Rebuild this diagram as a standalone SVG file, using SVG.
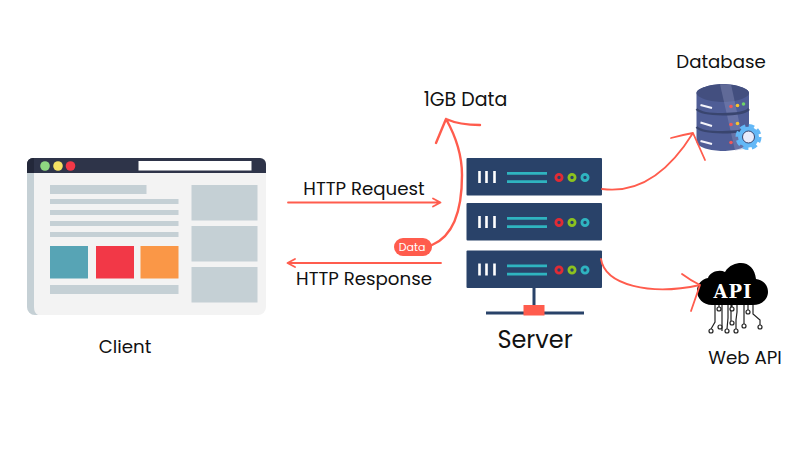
<svg xmlns="http://www.w3.org/2000/svg" width="810" height="450" viewBox="0 0 810 450">
<style>
.t{font-family:Poppins,"Liberation Sans","Noto Sans",sans-serif;font-size:18.200px;fill:#111}
.c{fill:none;stroke:#ff5c4d;stroke-width:1.800;stroke-linecap:round;stroke-linejoin:round}
.h{stroke-width:2.400}
.g{fill:#c5d0d5}
.teal{stroke:#2fb4c0;stroke-width:2.700}
.panel{fill:#294269}
.i{stroke:#fff;stroke-width:2.600}
.lead{fill:none;stroke:#222;stroke-width:1.200}
.pad{fill:#fff;stroke:#222;stroke-width:1.200}
</style>
<rect width="810" height="450" fill="#fff"/>
<g id="client">
<path d="M27 173H266V307a8 8 0 0 1-8 8H35a8 8 0 0 1-8-8Z" fill="#f3f3f3"/>
<path d="M27 173H34V307Q34 313 38 315H35a8 8 0 0 1-8-8Z" fill="#c5d0d5"/>
<path d="M33 158H260a6 6 0 0 1 6 6V173H27V164a6 6 0 0 1 6-6Z" fill="#2e3449"/>
<path d="M33 158H34V173H27V164a6 6 0 0 1 6-6Z" fill="#23283a"/>
<circle cx="45" cy="166" r="4.800" fill="#8ed881"/>
<circle cx="58" cy="166" r="4.800" fill="#f6e264"/>
<circle cx="70.500" cy="166" r="4.800" fill="#f23847"/>
<rect x="138.500" y="161" width="113" height="9.500" fill="#fff"/>
<rect x="50" y="185" width="96.500" height="9" class="g"/>
<rect x="50" y="199" width="128.500" height="5" class="g"/>
<rect x="50" y="210" width="128.500" height="5" class="g"/>
<rect x="50" y="221" width="128.500" height="5" class="g"/>
<rect x="50" y="232" width="128.500" height="5" class="g"/>
<rect x="50" y="246" width="38" height="32.500" fill="#57a4b5"/>
<rect x="96" y="246" width="38" height="32.500" fill="#f23847"/>
<rect x="140.500" y="246" width="38" height="32.500" fill="#fa9747"/>
<rect x="50" y="285" width="128.500" height="9" class="g"/>
<rect x="191.500" y="185" width="66" height="35.500" class="g"/>
<rect x="191.500" y="226" width="66" height="35.500" class="g"/>
<rect x="191.500" y="267" width="66" height="35.500" class="g"/>
<text class="t" x="125" y="353" text-anchor="middle">Client</text>
</g>
<g id="server">
<g id="rack1"><rect x="466.500" y="158" width="135.500" height="37.500" rx="1" class="panel"/>
<path d="M479.500 171v12M486.500 171v12M494.500 171v12" class="i"/><path d="M507 173.300h40M507 181.700h40" class="teal"/>
<g fill="none" stroke-width="2.800"><circle cx="559" cy="177.500" r="3.100" stroke="#e02b35"/><circle cx="572" cy="177.500" r="3.100" stroke="#8cc21f"/><circle cx="585" cy="177.500" r="3.100" stroke="#2fb4c0"/></g></g>
<g id="rack2"><rect x="466.500" y="203" width="135.500" height="37.500" rx="1" class="panel"/>
<path d="M479.500 216v12M486.500 216v12M494.500 216v12" class="i"/><path d="M507 218.300h40M507 226.700h40" class="teal"/>
<g fill="none" stroke-width="2.800"><circle cx="559" cy="222.500" r="3.100" stroke="#e02b35"/><circle cx="572" cy="222.500" r="3.100" stroke="#8cc21f"/><circle cx="585" cy="222.500" r="3.100" stroke="#2fb4c0"/></g></g>
<g id="rack3"><rect x="466.500" y="250.500" width="135.500" height="37.500" rx="1" class="panel"/>
<path d="M479.500 263.500v12M486.500 263.500v12M494.500 263.500v12" class="i"/><path d="M507 265.800h40M507 274.200h40" class="teal"/>
<g fill="none" stroke-width="2.800"><circle cx="559" cy="270" r="3.100" stroke="#e02b35"/><circle cx="572" cy="270" r="3.100" stroke="#8cc21f"/><circle cx="585" cy="270" r="3.100" stroke="#2fb4c0"/></g></g>
<path d="M534 288v24M486 313h98" stroke="#294269" stroke-width="3" fill="none"/>
<rect x="523.500" y="305" width="21" height="10.500" fill="#ff5c4d"/>
<text x="535" y="348" text-anchor="middle" style="font-family:Poppins,'Liberation Sans',sans-serif;font-size:24px;fill:#111">Server</text>
</g>
<g id="database">
<path d="M696.500 93C696.500 88 712 84 723 84S749 88 749 93V142C749 147 735 151 723 151S696.500 147 696.500 142Z" fill="#4f5d96"/>
<path d="M696.500 93C696.500 88 712 84 723 84S749 88 749 93C749 98 735 102 723 102S696.500 98 696.500 93Z" fill="#434f7f"/>
<path d="M720 84.300 731 84.300 745 149 735 150.500Z" fill="#8b93bd" opacity=".4"/>
<path d="M696.500 109C703 116 742 116 749 109M696.500 127C703 134 742 134 749 127" fill="none" stroke="#39456f" stroke-width="2.500"/>
<path d="M700.500 105 712 108M700.500 122.500 712 126M700.500 141 712 144" stroke="#f4f4fb" stroke-width="2" fill="none"/>
<g id="dots"><circle cx="731" cy="106.500" r="1.800" fill="#ef5a5a"/><circle cx="737.500" cy="105.500" r="1.800" fill="#f7c52d"/><circle cx="743.500" cy="104" r="1.800" fill="#6ed36a"/><circle cx="731" cy="124.500" r="1.800" fill="#ef5a5a"/><circle cx="737.500" cy="123.500" r="1.800" fill="#f7c52d"/><circle cx="731" cy="142.500" r="1.800" fill="#ef5a5a"/></g>
<circle cx="748.500" cy="137" r="10.500" fill="#63b8f7"/>
<circle cx="748.500" cy="137" r="11.500" fill="none" stroke="#63b8f7" stroke-width="3" stroke-dasharray="5.500 3.530"/>
<circle cx="748.500" cy="137" r="6" fill="#e9ebfb" stroke="#39456f" stroke-width="1"/>
<text class="t" x="721" y="67.500" text-anchor="middle">Database</text>
</g>
<g id="web-api">
<path d="M712 305C703 305 697 298 697 291C697 284 702 279 708 278C710 272 719 269 725 272C729 265 736 263 741 263C749 263 755 269 756 279C763 280 768 285 768 292C768 299 762 305 753 305Z" fill="#000"/>
<text x="733" y="298" text-anchor="middle" style="font-family:'DejaVu Serif',serif;font-size:18px;font-weight:700;fill:#fff;letter-spacing:1px">API</text>
<path class="lead" d="M715 305V322L711 329M719 305V311M722 305V331M728 305V318L727 329M731 305V321M732 305V311M737 305V312L736 320 736 329M744 305V324M753 305V314L760 320V325M748 305V310"/>
<g class="pad"><circle cx="711" cy="331" r="2"/><circle cx="720" cy="327" r="2"/><circle cx="727" cy="331" r="2"/><circle cx="736" cy="331" r="2"/><circle cx="732" cy="323" r="2"/><circle cx="744" cy="326" r="2"/><circle cx="760" cy="327" r="2"/><circle cx="719" cy="309" r="2"/><circle cx="732" cy="309" r="2"/><circle cx="748" cy="312" r="2"/></g>
<text class="t" x="745" y="364" text-anchor="middle">Web API</text>
</g>
<g id="connectors">
<path class="c" d="M288 202.500H440M433 198.500 440.500 202.500 433 206.500"/>
<path class="c" d="M441 263H288M295 259 287.500 263 295 267"/>
<path class="c h" d="M432 245C456 235 462 205 462 175C462 155 455 135 446 119M436 143 446 119C455 123 468 125 480 125"/>
<path class="c" d="M602 189C640 194 670 170 693 133M671 138Q682 135 693 133L705 160"/>
<path class="c" d="M601 259C605 285 650 296 700 285M682 274Q690 280 700 285L691 311"/>
</g>
<g id="labels">
<text class="t" x="364" y="195" text-anchor="middle">HTTP Request</text>
<text class="t" x="364" y="285" text-anchor="middle">HTTP Response</text>
<text class="t" x="465.500" y="105.500" text-anchor="middle" style="font-size:19px">1GB Data</text>
<g id="data-badge"><rect x="394" y="238" width="38" height="18" rx="9" fill="#ff5c4d"/><text x="412" y="251" text-anchor="middle" style="font-family:Poppins,'Liberation Sans',sans-serif;font-size:11px;fill:#fff">Data</text></g>
</g>
</svg>
